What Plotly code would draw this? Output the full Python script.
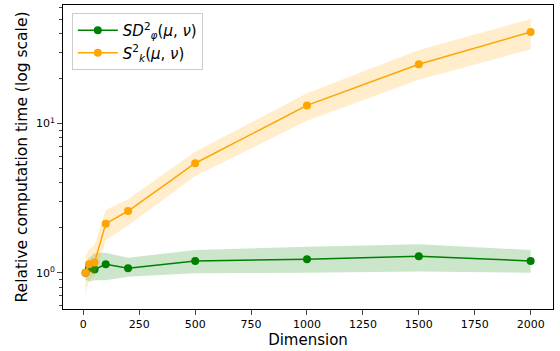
import plotly.graph_objects as go

dims = [10, 25, 50, 100, 200, 500, 1000, 1500, 2000]

sd_mean = [1.0, 1.08, 1.05, 1.14, 1.07, 1.20, 1.23, 1.29, 1.20]
sd_upper = [1.12, 1.25, 1.35, 1.36, 1.26, 1.42, 1.49, 1.55, 1.42]
sd_lower = [0.90, 0.87, 0.89, 0.89, 0.94, 0.99, 1.00, 1.02, 1.00]

sk_mean = [1.0, 1.14, 1.17, 2.13, 2.59, 5.41, 13.2, 24.9, 40.9]
sk_upper = [1.30, 1.42, 1.53, 2.63, 3.10, 6.46, 15.9, 31.0, 50.0]
sk_lower = [0.71, 0.89, 0.95, 1.65, 2.07, 4.45, 10.4, 19.6, 31.3]

x_ticks = [0, 250, 500, 750, 1000, 1250, 1500, 1750, 2000]
y_major = [1, 10]
y_major_text = ["10<sup>0</sup>", "10<sup>1</sup>"]
y_minor = [0.6, 0.7, 0.8, 0.9, 2, 3, 4, 5, 6, 7, 8, 9, 20, 30, 40, 50, 60]

GREEN = "#008000"
ORANGE = "#FFA500"

fig = go.Figure()

def add_series(mean, upper, lower, color, fill, name):
    fig.add_trace(go.Scatter(x=dims, y=upper, mode="lines", line=dict(width=0),
                             showlegend=False, hoverinfo="skip"))
    fig.add_trace(go.Scatter(x=dims, y=lower, mode="lines", line=dict(width=0),
                             fill="tonexty", fillcolor=fill,
                             showlegend=False, hoverinfo="skip"))
    fig.add_trace(go.Scatter(x=dims, y=mean, mode="lines+markers", name=name,
                             line=dict(color=color, width=1.5),
                             marker=dict(color=color, size=8)))

add_series(sd_mean, sd_upper, sd_lower, GREEN, "rgba(0,128,0,0.2)",
           "<i>SD</i><sup>2</sup><sub><i>φ</i></sub>(<i>μ</i>, <i>ν</i>)")
add_series(sk_mean, sk_upper, sk_lower, ORANGE, "rgba(255,165,0,0.2)",
           "<i>S</i><sup>2</sup><sub><i>k</i></sub>(<i>μ</i>, <i>ν</i>)")

fig.update_layout(
    width=560, height=351,
    margin=dict(l=63, r=7, t=5, b=42),
    paper_bgcolor="white", plot_bgcolor="white",
    font=dict(family="DejaVu Sans", color="black", size=10),
    legend=dict(x=0.018, y=0.974, xanchor="left", yanchor="top",
                traceorder="normal",
                bgcolor="rgba(255,255,255,0.8)", bordercolor="#cccccc",
                borderwidth=1, font=dict(size=15), itemwidth=40),
    xaxis=dict(range=[-91, 2100], tickvals=x_ticks, ticks="outside", ticklen=5,
               showgrid=False, zeroline=False, showline=True, linecolor="black",
               linewidth=1, mirror=True, tickfont=dict(size=11),
               title=dict(text="Dimension", font=dict(size=15), standoff=4)),
    yaxis=dict(type="log", range=[-0.243, 1.793], tickvals=y_major,
               ticktext=y_major_text, ticks="outside", ticklen=5,
               minor=dict(tickvals=y_minor, ticks="outside", ticklen=3,
                          showgrid=False),
               showgrid=False, zeroline=False, showline=True, linecolor="black",
               linewidth=1, mirror=True, tickfont=dict(size=11),
               title=dict(text="Relative computation time (log scale)",
                          font=dict(size=15.5), standoff=4)),
)

fig.write_html("out.html")
